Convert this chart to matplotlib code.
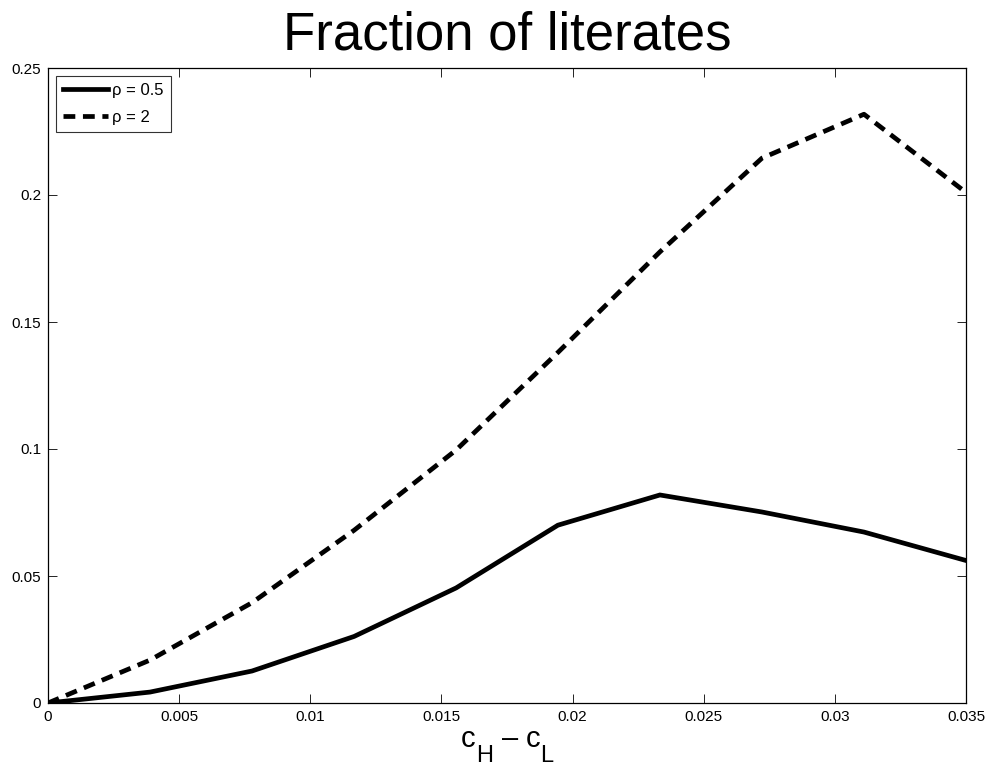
import matplotlib
matplotlib.use("Agg")
import matplotlib.pyplot as plt
import numpy as np

plt.rcParams['font.family'] = ['Liberation Sans', 'DejaVu Sans']
plt.rcParams['lines.scale_dashes'] = False

# Cost gap c_H - c_L and fraction of literates for two values of rho
cost_gap = [0.0, 0.00389, 0.00778, 0.01167, 0.01556, 0.01944, 0.02333, 0.02722, 0.03111, 0.035]
lit_rho_05 = [0.0, 0.0043, 0.0126, 0.0262, 0.0453, 0.0700, 0.0819, 0.0752, 0.0673, 0.0561]
lit_rho_2 = [0.0, 0.0169, 0.0395, 0.0680, 0.0996, 0.1380, 0.1776, 0.2145, 0.2318, 0.2010]
series_labels = ['ρ = 0.5', 'ρ = 2']
x_ticks = [0, 0.005, 0.01, 0.015, 0.02, 0.025, 0.03, 0.035]
x_tick_labels = ['0', '0.005', '0.01', '0.015', '0.02', '0.025', '0.03', '0.035']
y_ticks = [0, 0.05, 0.1, 0.15, 0.2, 0.25]
y_tick_labels = ['0', '0.05', '0.1', '0.15', '0.2', '0.25']

W, H = 991, 767
fig = plt.figure(figsize=(W / 100, H / 100), dpi=100)
ax = fig.add_axes([48 / W, 1 - 703 / H, (966 - 48) / W, (703 - 68) / H])

ax.plot(cost_gap, lit_rho_05, color='black', lw=3.4, solid_joinstyle='miter',
        label=series_labels[0])
ax.plot(cost_gap, lit_rho_2, color='black', lw=3.4, linestyle=(0, (8.5, 5.5)),
        dash_capstyle='butt', label=series_labels[1])

ax.set_xlim(0, 0.035)
ax.set_ylim(0, 0.25)
ax.set_xticks(x_ticks)
ax.set_xticklabels(x_tick_labels)
ax.set_yticks(y_ticks)
ax.set_yticklabels(y_tick_labels)
ax.tick_params(direction='in', length=6.5, width=0.6, top=True, right=True,
               labelsize=11, pad=5, colors='black')
for s in ax.spines.values():
    s.set_linewidth(0.9)

leg = ax.legend(loc='upper left', fontsize=12, frameon=True, fancybox=False,
                handlelength=2.7, handletextpad=0.25, borderpad=0.45,
                labelspacing=0.7, borderaxespad=0.45)
leg.get_frame().set_edgecolor('black')
leg.get_frame().set_linewidth(0.8)

# title centred over the axes
fig.text(507 / W, 1 - 36 / H, 'Fraction of literates', ha='center', va='center',
         fontsize=38)

# x-axis label: c_H - c_L with large subscripts
def px(x, y):
    return x / W, 1 - y / H

parts = [('c', 461, 747, 21), ('H', 476, 762, 17), ('–', 502, 747, 21),
         ('c', 526, 747, 21), ('L', 540, 762, 17)]
for txt, x, y, size in parts:
    fx, fy = px(x, y)
    fig.text(fx, fy, txt, ha='left', va='baseline', fontsize=size)

fig.savefig('out.png', dpi=100)
